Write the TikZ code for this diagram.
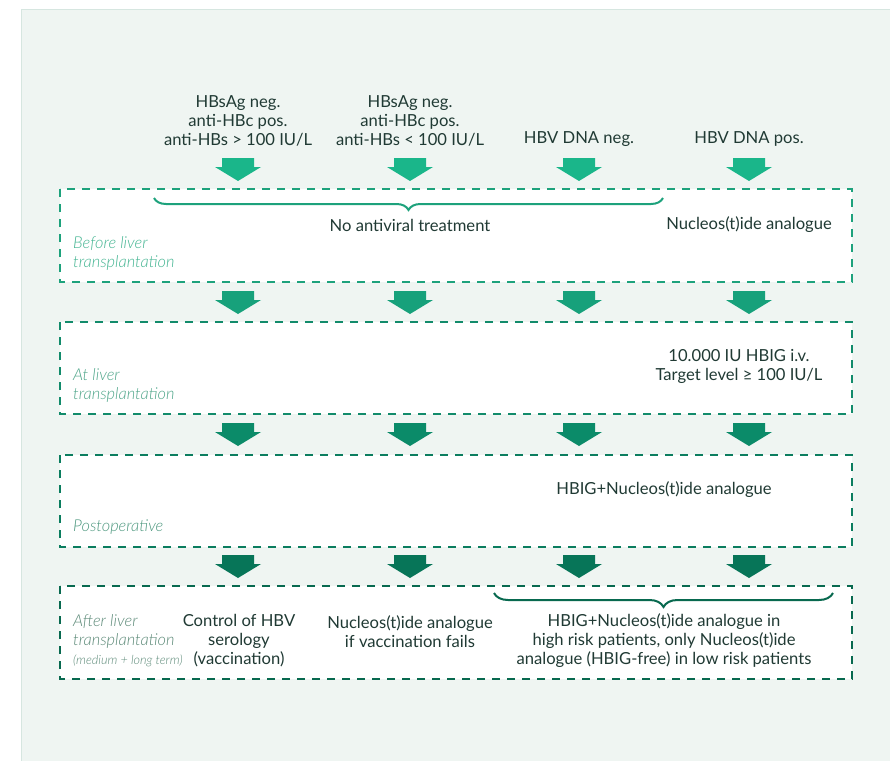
\documentclass[tikz,border=0pt]{standalone}
\usepackage{fontspec}
\setmainfont{Lato}
\newfontfamily\latolight{Lato Light}
\usetikzlibrary{decorations.pathreplacing}
\definecolor{ink}{HTML}{203A34}
\definecolor{panelbg}{HTML}{EFF5F2}
\definecolor{panelline}{HTML}{D6E6E0}
\definecolor{stageA}{HTML}{1DA27C}
\definecolor{stageB}{HTML}{128B6B}
\definecolor{stageC}{HTML}{0B7D5F}
\definecolor{stageD}{HTML}{08694F}
\definecolor{arrA}{HTML}{1AB68A}
\definecolor{arrB}{HTML}{17A17B}
\definecolor{arrC}{HTML}{0B8B69}
\definecolor{arrD}{HTML}{077558}
\definecolor{tagA}{HTML}{44B592}
\definecolor{tagB}{HTML}{4FA68A}
\definecolor{tagC}{HTML}{4F9980}
\definecolor{tagD}{HTML}{5C8A78}
\begin{document}
\begin{tikzpicture}[x=1pt,y=-1pt,
    txt/.style={text=ink,font=\fontsize{16.6}{19}\selectfont,align=center,inner sep=0pt},
    phase/.style={font=\latolight\itshape\fontsize{16.4}{19}\selectfont,align=left,anchor=west,inner sep=0pt},
    stage/.style={fill=white,draw=#1,line width=2.7pt,dash pattern=on 7.6pt off 7.4pt},
    curly/.style={decorate,decoration={brace,amplitude=#1},line width=2pt}]
    \useasboundingbox (0,0) rectangle (890,760);
    \fill[white] (0,0) rectangle (890,760);
    \filldraw[fill=panelbg,draw=panelline,line width=1pt] (21,10) rectangle (900,770);
    % stages
    \draw[stage=stageA] (60,189) rectangle (852,282);
    \draw[stage=stageB] (60,322) rectangle (852,414);
    \draw[stage=stageC] (60,455) rectangle (852,547);
    \draw[stage=stageD] (60,586) rectangle (852,679);
    % block arrows
    \foreach \ty/\col in {158/arrA,291/arrB,423/arrC,555/arrD}
      \foreach \cx in {238,410,579,749}
        \fill[\col] ({\cx-16},\ty) -- ++(32,0) -- ++(0,9) -- ++(7,0)
          -- (\cx,{\ty+23}) -- ({\cx-23},{\ty+9}) -- ++(7,0) -- cycle;
    % findings
    \node[txt] (neg1) at (238,121) {HBsAg neg.\\anti-HBc pos.\\anti-HBs > 100 IU/L};
    \node[txt] (neg2) at (410,121) {HBsAg neg.\\anti-HBc pos.\\anti-HBs < 100 IU/L};
    \node[txt] (dnaneg) at (579,139) {HBV DNA neg.};
    \node[txt] (dnapos) at (749,139) {HBV DNA pos.};
    % before
    \draw[curly=12pt,draw=stageA] (663,198) -- (154,198);
    \node[txt] (noav) at (410,225) {No antiviral treatment};
    \node[txt] (nuc) at (749,225) {Nucleos(t)ide analogue};
    \node[phase,text=tagA] (before) at (73,253.5) {Before liver\\transplantation};
    % at
    \node[txt] (hbig) at (739,366.5) {10.000 IU HBIG i.v.\\Target level ≥ 100 IU/L};
    \node[phase,text=tagB] (atlt) at (73,385.5) {At liver\\transplantation};
    % postoperative
    \node[txt] (combo) at (664,490) {HBIG+Nucleos(t)ide analogue};
    \node[phase,text=tagC] (postop) at (73,527) {Postoperative};
    % after
    \draw[curly=14pt,draw=stageD] (833,593) -- (494,593);
    \node[txt] (sero) at (239,641) {Control of HBV\\serology\\(vaccination)};
    \node[txt] (vacc) at (410,631.5) {Nucleos(t)ide analogue\\if vaccination fails};
    \node[txt] (risk) at (664,641) {HBIG+Nucleos(t)ide analogue in\\high risk patients, only Nucleos(t)ide\\analogue (HBIG-free) in low risk patients};
    \node[phase,text=tagD] (after) at (73,641) {After liver\\transplantation\\{\fontsize{12.6}{19}\selectfont(medium + long term)}};
\end{tikzpicture}
\end{document}
